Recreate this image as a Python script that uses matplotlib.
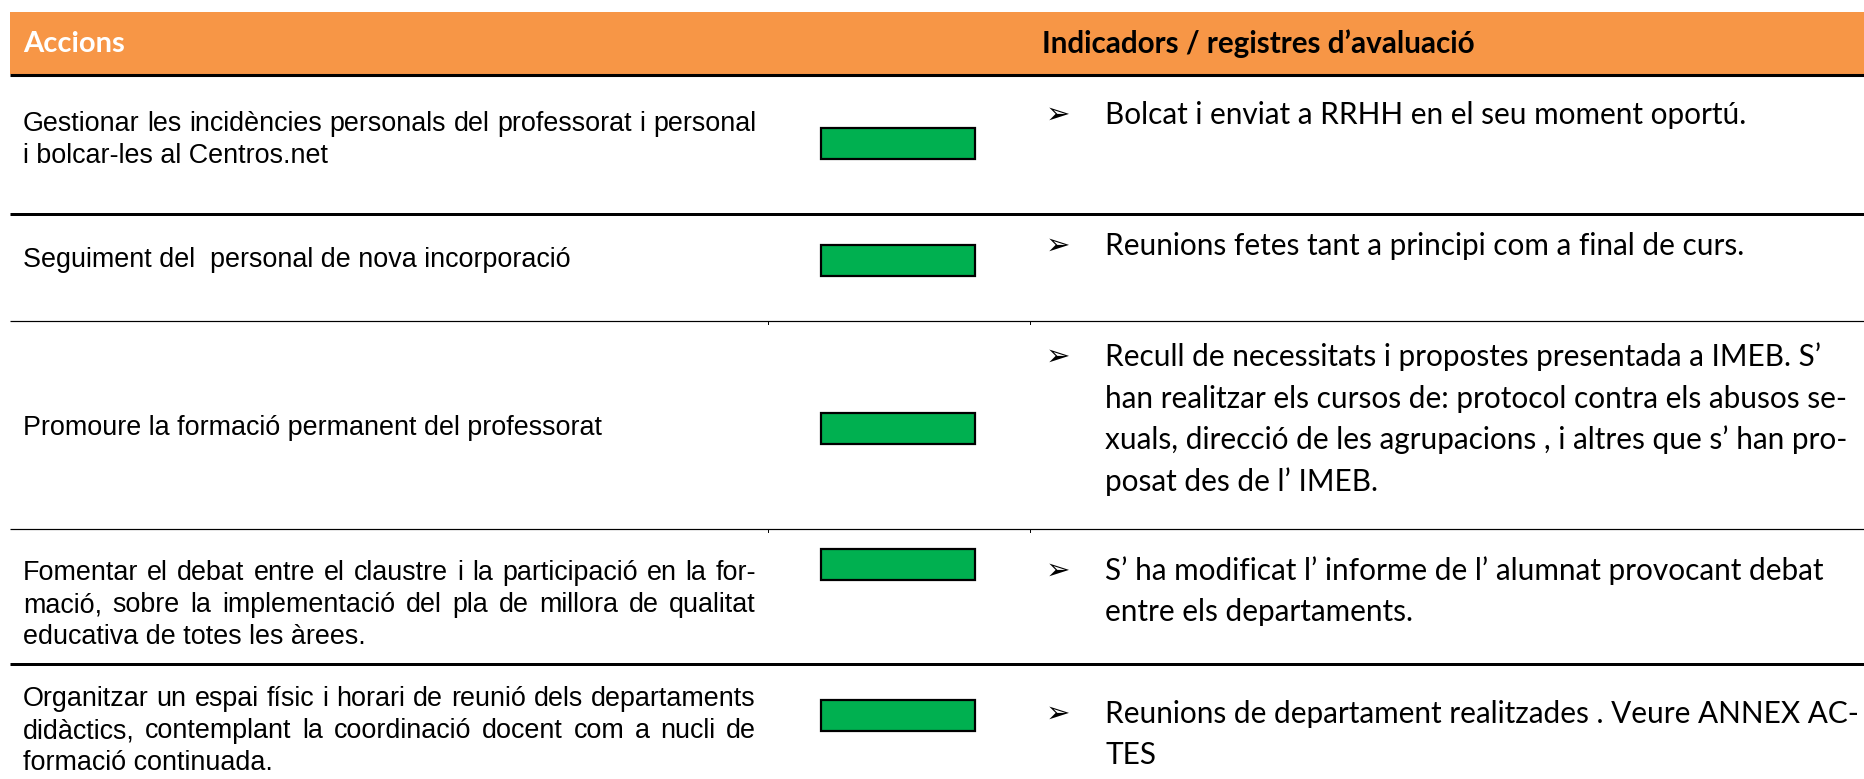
import matplotlib.pyplot as plt
from matplotlib.patches import Rectangle

# ---- table content ----
header_left = "Accions"
header_right = "Indicadors / registres d\u2019avaluació"

actions = [
    ["Gestionar les incidències personals del professorat i personal",
     "i bolcar-les al Centros.net"],
    ["Seguiment del  personal de nova incorporació"],
    ["Promoure la formació permanent del professorat"],
    ["Fomentar el debat entre el claustre i la participació en la for-",
     "mació,  sobre la implementació del pla de millora de qualitat",
     "educativa de totes les àrees."],
    ["Organitzar  un espai físic i horari de reunió dels departaments",
     "didàctics, contemplant la coordinació docent com a nucli de",
     "formació continuada."],
]

indicators = [
    ["Bolcat i enviat a RRHH en el seu moment oportú."],
    ["Reunions fetes tant a principi com a final de curs."],
    ["Recull de necessitats i propostes presentada a IMEB. S\u2019",
     "han realitzar els cursos de: protocol contra els abusos se-",
     "xuals, direcció de les agrupacions , i altres que s\u2019 han pro-",
     "posat des de l\u2019 IMEB."],
    ["S\u2019 ha modificat l\u2019 informe de l\u2019 alumnat provocant debat",
     "entre els departaments."],
    ["Reunions de departament realitzades . Veure ANNEX AC-",
     "TES"],
]

status = ["#00B050", "#00B050", "#00B050", "#00B050", "#00B050"]

# ---- layout (pixels) ----
W, H = 1865, 779
row_lines = [214, 321, 529, 664]
row_line_w = [3, 1.2, 1.2, 3]
left_y = [140, 260, 428, 605, 731]
box_y = [143, 260, 428, 564, 715]
right_y = [115, 246, 357, 571, 714]
left_x0, left_x1 = 23, 756
box_x0, box_x1, box_h = 821, 975, 31
arrow_x, right_x = 1046, 1105
left_ls, right_ls = 31.5, 41.5
cell_ticks = [768, 1030]

fig = plt.figure(figsize=(W / 100, H / 100), dpi=100)
ax = fig.add_axes([0, 0, 1, 1])
ax.set_xlim(0, W)
ax.set_ylim(H, 0)
ax.axis('off')
r = fig.canvas.get_renderer()

left_font = dict(family='Liberation Sans', fontsize=19.4, color='black')
right_font = dict(family='Lato', fontsize=21.4, color='black')

# header band
ax.add_patch(Rectangle((10, 12), W - 10, 62, facecolor='#F79646', edgecolor='none'))
ax.plot([10, W], [75, 75], color='black', lw=2.2, solid_capstyle='butt')
ax.text(23, 44, header_left, family='Lato', fontweight='bold', fontsize=21,
        color='white', va='center', ha='left')
ax.text(1042, 44, header_right, family='Lato', fontweight='bold', fontsize=21.3,
        color='black', va='center', ha='left')

for y, lw in zip(row_lines, row_line_w):
    ax.plot([10, W], [y, y], color='black', lw=lw * 0.72, solid_capstyle='butt')
    if lw < 2:
        for tx in cell_ticks:
            ax.plot([tx, tx], [y, y + 3], color='black', lw=0.7)


def justified(line, y):
    words = line.split()
    widths = []
    for w in words:
        t = ax.text(0, 0, w, **left_font)
        widths.append(t.get_window_extent(r).width)
        t.remove()
    gap = (left_x1 - left_x0 - sum(widths)) / (len(words) - 1)
    x = left_x0
    for w, wd in zip(words, widths):
        ax.text(x, y, w, va='center', ha='left', **left_font)
        x += wd + gap


for i, lines in enumerate(actions):
    y0 = left_y[i] - (len(lines) - 1) * left_ls / 2
    for j, line in enumerate(lines):
        y = y0 + j * left_ls
        if j < len(lines) - 1:
            justified(line, y)
        else:
            ax.text(left_x0, y, line, va='center', ha='left', **left_font)

    ax.add_patch(Rectangle((box_x0, box_y[i] - box_h / 2), box_x1 - box_x0, box_h,
                           facecolor=status[i], edgecolor='black', lw=1.6))

    for j, line in enumerate(indicators[i]):
        y = right_y[i] + j * right_ls
        if j == 0:
            ax.text(arrow_x, y, '\u27a2', family='DejaVu Sans', fontsize=21,
                    va='center', ha='left', color='black')
        ax.text(right_x, y, line, va='center', ha='left', **right_font)

fig.savefig('out.png', dpi=100)
plt.close(fig)
